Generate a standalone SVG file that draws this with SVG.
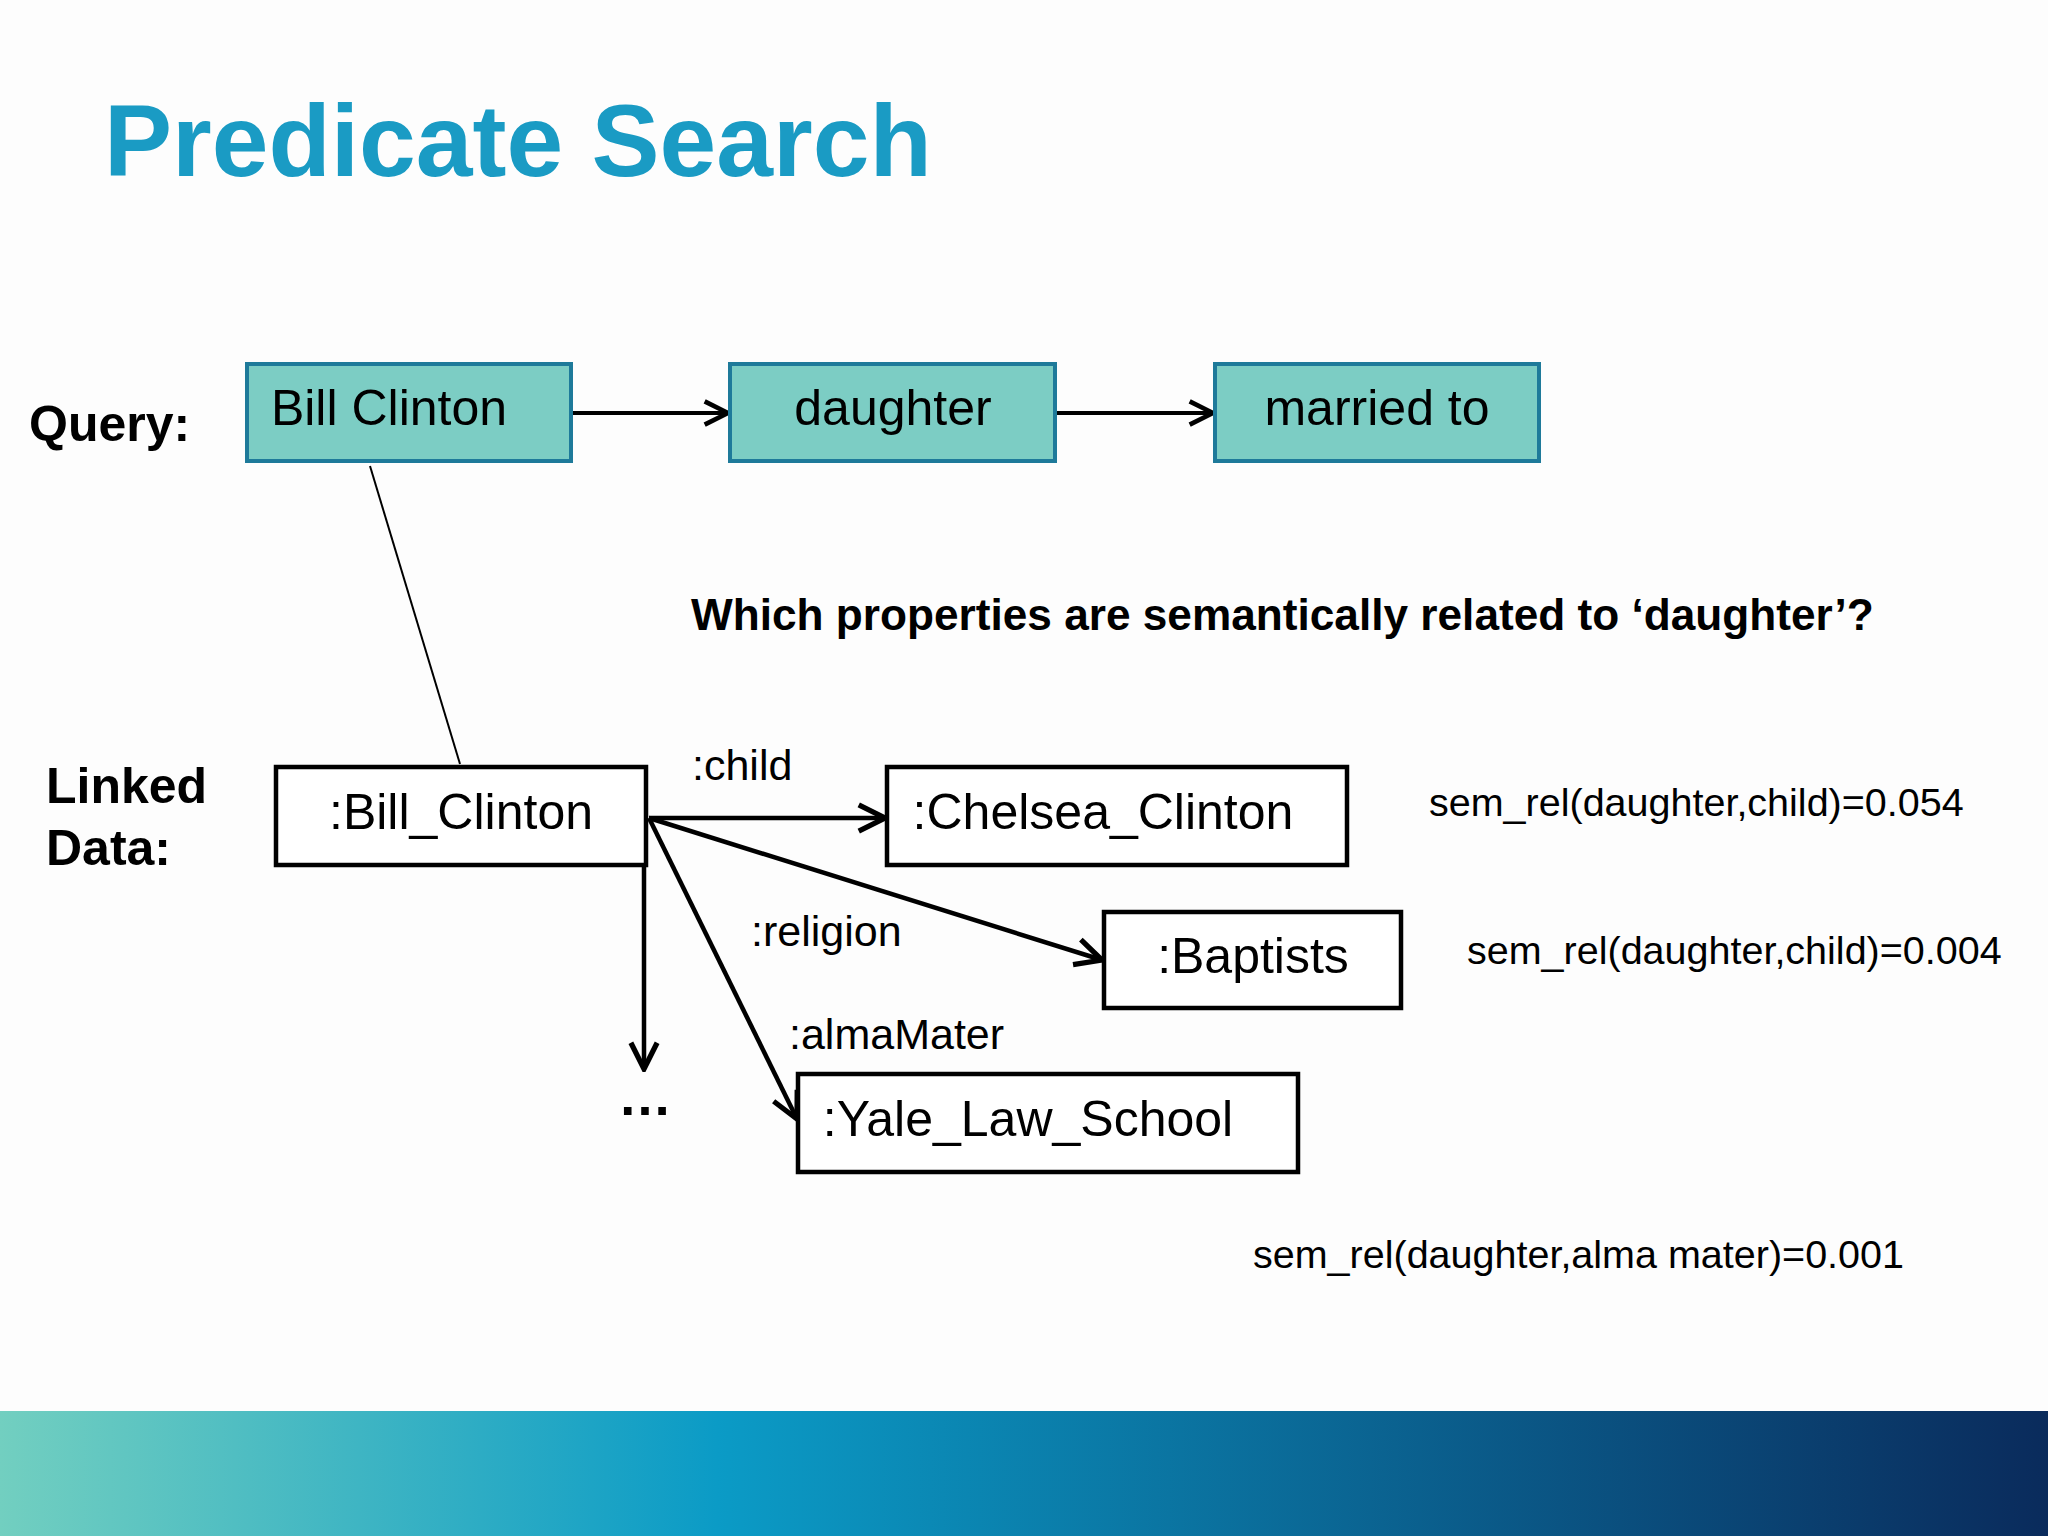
<svg xmlns="http://www.w3.org/2000/svg" width="2048" height="1536" viewBox="0 0 2048 1536">
<style>
text{font-family:"Liberation Sans",Arial,sans-serif;fill:#000}
.q rect{fill:#7ccdc4;stroke:#1e7a9a;stroke-width:4}
.l rect{fill:#fff;stroke:#000;stroke-width:4.5}
.nt{font-size:50px;text-anchor:middle}
.lbl{font-size:43px}
.sem{font-size:39.5px}
.b{font-weight:bold}
</style>
<defs>
<marker id="a2" viewBox="0 0 12 12" refX="11" refY="6" markerWidth="7" markerHeight="7" orient="auto"><path d="M1 1 L11 6 L1 11" fill="none" stroke="#000" stroke-width="2"/></marker>
<linearGradient id="g" x1="0" x2="1" y1="0" y2="0"><stop offset="0" stop-color="#72cfc0"/><stop offset="0.35" stop-color="#0b9bc6"/><stop offset="1" stop-color="#0a2b5c"/></linearGradient>
</defs>
<rect width="2048" height="1536" fill="#fdfdfd"/>
<rect y="1411" width="2048" height="125" fill="url(#g)"/>
<text x="104" y="176" font-size="102" font-weight="bold" style="fill:#1a9bc4">Predicate Search</text>
<text x="29" y="441" font-size="50" class="b">Query:</text>
<text x="46" y="803" font-size="50" class="b">Linked</text>
<text x="46" y="865" font-size="50" class="b">Data:</text>
<text x="691" y="630" font-size="44.2" class="b">Which properties are semantically related to ‘daughter’?</text>
<g id="connectors" fill="none" stroke="#000">
<line x1="571" y1="413" x2="728" y2="413" stroke-width="4" marker-end="url(#a2)"/>
<line x1="1055" y1="413" x2="1213" y2="413" stroke-width="4" marker-end="url(#a2)"/>
<line x1="370" y1="466" x2="460" y2="764" stroke-width="2"/>
<line x1="649" y1="818" x2="885" y2="818" stroke-width="4.5" marker-end="url(#a2)"/>
<line x1="649" y1="818" x2="1102" y2="960" stroke-width="4.5" marker-end="url(#a2)"/>
<line x1="649" y1="818" x2="797" y2="1119" stroke-width="4.5" marker-end="url(#a2)"/>
<line x1="644" y1="818" x2="644" y2="1069" stroke-width="4.5" marker-end="url(#a2)"/>
</g>
<text x="692" y="780" class="lbl">:child</text>
<text x="751" y="946" class="lbl">:religion</text>
<text x="789" y="1049" class="lbl">:almaMater</text>
<text x="645" y="1115" font-size="54" text-anchor="middle" class="b">…</text>
<g id="q1" class="q"><rect x="247" y="364" width="324" height="97"/><text class="nt" x="389" y="425">Bill Clinton</text></g>
<g id="q2" class="q"><rect x="730" y="364" width="325" height="97"/><text class="nt" x="893" y="425">daughter</text></g>
<g id="q3" class="q"><rect x="1215" y="364" width="324" height="97"/><text class="nt" x="1377" y="425">married to</text></g>
<g id="n1" class="l"><rect x="276" y="767" width="370" height="98"/><text class="nt" x="461" y="829">:Bill_Clinton</text></g>
<g id="n2" class="l"><rect x="887" y="767" width="460" height="98"/><text class="nt" x="1103" y="829">:Chelsea_Clinton</text></g>
<g id="n3" class="l"><rect x="1104" y="912" width="297" height="96"/><text class="nt" x="1253" y="973">:Baptists</text></g>
<g id="n4" class="l"><rect x="798" y="1074" width="500" height="98"/><text class="nt" x="1028" y="1136">:Yale_Law_School</text></g>
<text x="1429" y="816" class="sem">sem_rel(daughter,child)=0.054</text>
<text x="1467" y="964" class="sem">sem_rel(daughter,child)=0.004</text>
<text x="1253" y="1268" class="sem">sem_rel(daughter,alma mater)=0.001</text>
</svg>
